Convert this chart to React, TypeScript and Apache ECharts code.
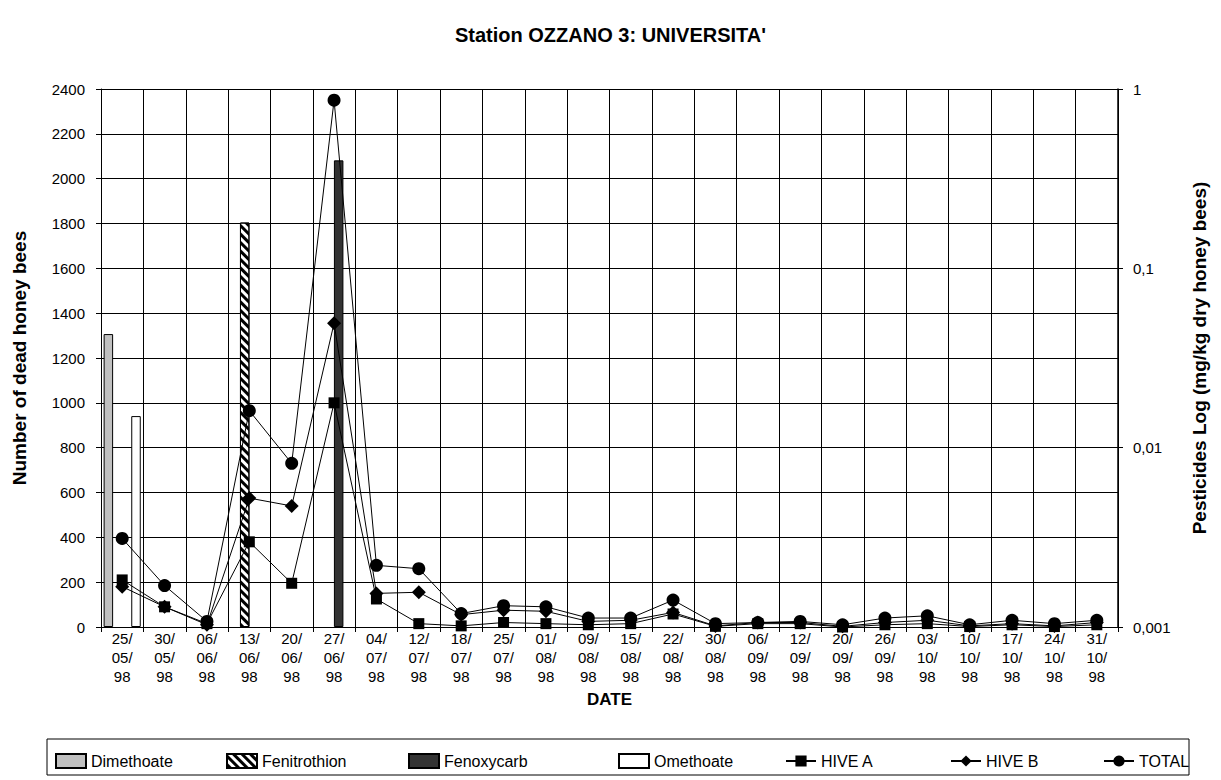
import React, { useEffect, useRef } from "react";
import * as echarts from "echarts";

const dates = [
  "25/05/98", "30/05/98", "06/06/98", "13/06/98", "20/06/98", "27/06/98",
  "04/07/98", "12/07/98", "18/07/98", "25/07/98", "01/08/98", "09/08/98",
  "15/08/98", "22/08/98", "30/08/98", "06/09/98", "12/09/98", "20/09/98",
  "26/09/98", "03/10/98", "10/10/98", "17/10/98", "24/10/98", "31/10/98",
];

// Pesticides (mg/kg dry honey bees), plotted on the log axis
const dimethoate = [0.043, null, null, null, null, null, null, null, null, null, null, null, null, null, null, null, null, null, null, null, null, null, null, null];
const fenitrothion = [null, null, null, 0.18, null, null, null, null, null, null, null, null, null, null, null, null, null, null, null, null, null, null, null, null];
const fenoxycarb = [null, null, null, null, null, 0.4, null, null, null, null, null, null, null, null, null, null, null, null, null, null, null, null, null, null];
const omethoate = [0.015, null, null, null, null, null, null, null, null, null, null, null, null, null, null, null, null, null, null, null, null, null, null, null];

// Dead honey bees
const hiveA = [210, 90, 15, 380, 195, 1000, 125, 15, 5, 20, 15, 10, 15, 58, 3, 15, 15, 0, 10, 15, 2, 10, 2, 10];
const hiveB = [180, 90, 10, 575, 540, 1355, 150, 155, 55, 75, 70, 25, 30, 65, 5, 20, 20, 3, 20, 30, 5, 15, 5, 20];
const total = [395, 185, 25, 965, 730, 2350, 275, 260, 60, 95, 90, 40, 40, 120, 15, 20, 25, 10, 40, 50, 10, 30, 15, 30];

const leftTicks = { min: 0, max: 2400, interval: 200 };
const rightTickLabels = ["0,001", "0,01", "0,1", "1"];
const LOG_MIN = 0.001;

const FONT = "'Liberation Sans', Arial, sans-serif";

const toLog = (arr: (number | null)[]) =>
  arr.map((v) => (v == null ? null : Math.log10(v / LOG_MIN)));

export default function App() {
  const ref = useRef<HTMLDivElement>(null);

  useEffect(() => {
    if (!ref.current) return;
    const chart = echarts.init(ref.current, null, { renderer: "svg" });

    const barBase = {
      type: "bar",
      yAxisIndex: 1,
      barWidth: 9.5,
      barGap: "-3%",
      z: 2,
    };
    const lineBase = {
      type: "line",
      yAxisIndex: 0,
      color: "#000",
      lineStyle: { color: "#000", width: 1 },
      itemStyle: { color: "#000" },
      z: 5,
    };

    const legendNames = ["Dimethoate", "Fenitrothion", "Fenoxycarb", "Omethoate", "HIVE A", "HIVE B", "TOTAL"];
    const legendLefts = [50, 221, 403, 613, 780, 945, 1098];

    chart.setOption({
      animation: false,
      backgroundColor: "#fff",
      textStyle: { fontFamily: FONT },
      title: {
        text: "Station OZZANO 3: UNIVERSITA'",
        left: "center",
        top: 20,
        textStyle: { fontFamily: FONT, fontSize: 20, fontWeight: "bold", color: "#000" },
      },
      legend: legendNames.map((n, i) => ({
        data: [n],
        left: legendLefts[i],
        top: 748,
        itemWidth: 30,
        itemHeight: 14,
        itemGap: 4,
        icon: i < 4 ? "rect" : undefined,
        textStyle: { fontFamily: FONT, fontSize: 16, color: "#000" },
        selectedMode: false,
      })),
      graphic: [
        {
          type: "rect",
          shape: { x: 47, y: 739, width: 1142, height: 36 },
          style: { fill: "none", stroke: "#000", lineWidth: 1 },
          silent: true,
        },
      ],
      grid: { left: 101, right: 103, top: 89, bottom: 153 },
      xAxis: {
        type: "category",
        data: dates.map((d) => d.replace(/\//g, "/\n")),
        name: "DATE",
        nameLocation: "middle",
        nameGap: 46,
        nameTextStyle: { fontFamily: FONT, fontSize: 17, fontWeight: "bold", color: "#000" },
        axisLine: { lineStyle: { color: "#000", width: 1 } },
        axisTick: { show: true, length: 5, interval: 0, lineStyle: { color: "#000" } },
        axisLabel: {
          interval: 0,
          margin: 2,
          fontFamily: FONT,
          fontSize: 15,
          lineHeight: 19,
          color: "#000",
        },
        splitLine: { show: true, interval: 0, lineStyle: { color: "#000", width: 1 } },
      },
      yAxis: [
        {
          type: "value",
          min: leftTicks.min,
          max: leftTicks.max,
          interval: leftTicks.interval,
          name: "Number of dead honey bees",
          nameLocation: "middle",
          nameGap: 72,
          nameTextStyle: { fontFamily: FONT, fontSize: 19, fontWeight: "bold", color: "#000" },
          axisLine: { show: true, lineStyle: { color: "#000", width: 1 } },
          axisTick: { show: true, length: 5, lineStyle: { color: "#000" } },
          axisLabel: {
            margin: 16,
            fontFamily: FONT,
            fontSize: 15,
            color: "#000",
            formatter: (v: number) => String(v),
          },
          splitLine: { show: true, lineStyle: { color: "#000", width: 1 } },
        },
        {
          type: "value",
          position: "right",
          min: 0,
          max: 3,
          interval: 1,
          name: "Pesticides Log (mg/kg dry honey bees)",
          nameLocation: "middle",
          nameGap: 72,
          nameRotate: 90,
          nameTextStyle: { fontFamily: FONT, fontSize: 19, fontWeight: "bold", color: "#000" },
          axisLine: { show: true, lineStyle: { color: "#000", width: 1.5 } },
          axisTick: { show: true, length: 5, lineStyle: { color: "#000" } },
          axisLabel: {
            margin: 15,
            fontFamily: FONT,
            fontSize: 15,
            color: "#000",
            formatter: (v: number) => rightTickLabels[Math.round(v)] ?? "",
          },
          splitLine: { show: false },
        },
      ],
      series: [
        {
          ...barBase,
          name: "Dimethoate",
          data: toLog(dimethoate),
          itemStyle: { color: "#c0c0c0", borderColor: "#000", borderWidth: 1 },
        },
        {
          ...barBase,
          name: "Fenitrothion",
          data: toLog(fenitrothion),
          itemStyle: {
            color: "#fff",
            borderColor: "#000",
            borderWidth: 1,
            decal: {
              symbol: "rect",
              symbolSize: 1,
              color: "#000",
              backgroundColor: "#fff",
              dashArrayX: [1, 0],
              dashArrayY: [3, 3],
              rotation: Math.PI / 4,
            },
          },
        },
        {
          ...barBase,
          name: "Fenoxycarb",
          data: toLog(fenoxycarb),
          itemStyle: { color: "#333333", borderColor: "#000", borderWidth: 1 },
        },
        {
          ...barBase,
          name: "Omethoate",
          data: toLog(omethoate),
          itemStyle: { color: "#fff", borderColor: "#000", borderWidth: 1 },
        },
        { ...lineBase, name: "HIVE A", data: hiveA, symbol: "rect", symbolSize: 11 },
        { ...lineBase, name: "HIVE B", data: hiveB, symbol: "diamond", symbolSize: 14 },
        { ...lineBase, name: "TOTAL", data: total, symbol: "circle", symbolSize: 13 },
      ],
    });

    return () => chart.dispose();
  }, []);

  return (
    <div
      ref={ref}
      style={{ position: "absolute", left: 0, top: 0, width: 1221, height: 780 }}
    />
  );
}
